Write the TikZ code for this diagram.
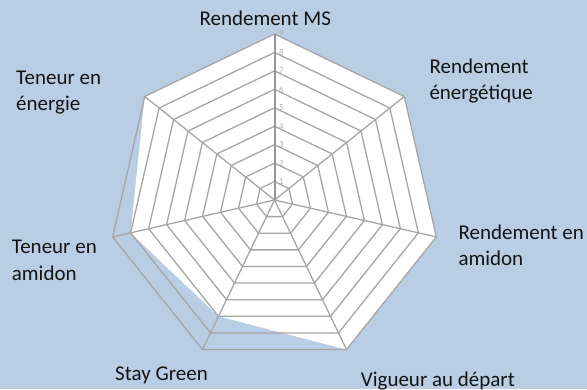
\documentclass[tikz,border=0pt]{standalone}
\usepackage{fontspec}
\setmainfont{Carlito}
\usetikzlibrary{calc}
\definecolor{bgblue}{RGB}{185,205,228}
\definecolor{gridgray}{RGB}{166,166,166}
\definecolor{axisgray}{RGB}{150,150,150}
\definecolor{tickgray}{RGB}{180,180,180}
\definecolor{txt}{RGB}{20,20,20}
\begin{document}
\begin{tikzpicture}[x=1pt,y=1pt,
  gridline/.style={draw=gridgray,line width=1.3pt,line join=miter},
  axisline/.style={draw=axisgray,line width=2pt},
  labeltext/.style={anchor=base west,inner sep=0pt,font=\fontsize{21}{25}\selectfont,text=txt},
  ticktext/.style={inner sep=0pt,font=\fontsize{9}{10}\selectfont,text=tickgray}]
\fill[bgblue] (0,0) rectangle (587,389);
\useasboundingbox (0,0) rectangle (587,389);
\coordinate (c) at (274.5,189);
\def\R{166}
\foreach \i/\a/\v in {0/90/9,1/38.571/9,2/-12.857/9,3/-64.286/9,4/-115.714/7,5/-167.143/8,6/141.429/9}{
  \coordinate (v\i) at ($(c)+(\a:\R)$);
  \coordinate (d\i) at ($(c)+(\a:{\v*\R/9})$);
}
% data area
\fill[white] (d0) -- (d1) -- (d2) -- (d3) -- (d4) -- (d5) -- (d6) -- cycle;
% rings
\foreach \k in {1,...,9}{
  \draw[gridline] ($(c)+(90:{\k*\R/9})$)
    \foreach \a in {38.571,-12.857,-64.286,-115.714,-167.143,141.429}{ -- ($(c)+(\a:{\k*\R/9})$) } -- cycle;
}
% spokes
\foreach \i in {1,...,6}{ \draw[gridline] (c) -- (v\i); }
\draw[axisline] (c) -- (v0);
% tick labels
\foreach \k in {1,...,9}{ \node[ticktext] (t\k) at ($(c)+(7,{\k*\R/9})$) {\k}; }
% category labels
\node[labeltext] (lMS) at (199.3,363) {Rendement MS};
\node[labeltext] (lTE1) at (16,304) {Teneur en};
\node[labeltext] (lTE2) at (16,278.3) {énergie};
\node[labeltext] (lRE1) at (429.3,315.7) {Rendement};
\node[labeltext] (lRE2) at (429.3,289.7) {énergétique};
\node[labeltext] (lTA1) at (11.7,135.7) {Teneur en};
\node[labeltext] (lTA2) at (11.7,109) {amidon};
\node[labeltext] (lRA1) at (458.3,149.7) {Rendement en};
\node[labeltext] (lRA2) at (458.3,124) {amidon};
\node[labeltext] (lSG) at (115,9) {Stay Green};
\node[labeltext] (lVD) at (360.7,3) {Vigueur au départ};
\end{tikzpicture}
\end{document}
